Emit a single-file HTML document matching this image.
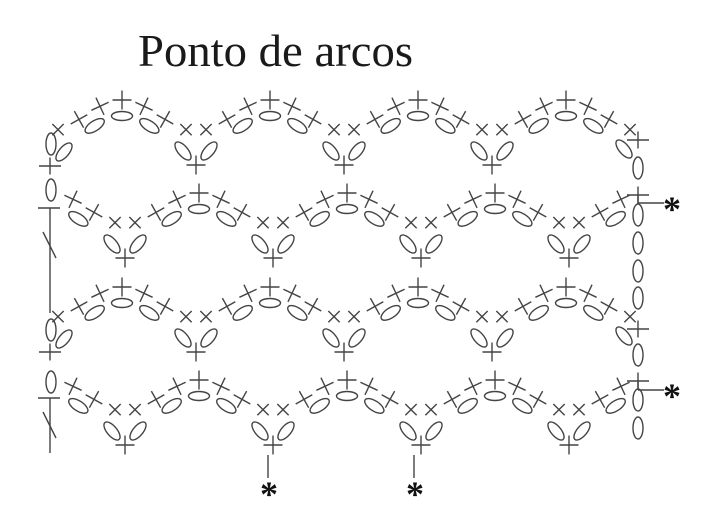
<!DOCTYPE html>
<html><head><meta charset="utf-8"><style>
html,body{margin:0;padding:0;background:#fff;width:720px;height:524px;overflow:hidden}
svg{display:block}
</style></head><body>
<svg id="s" width="720" height="524" viewBox="0 0 720 524" xmlns="http://www.w3.org/2000/svg">
<text x="138" y="66" font-family="Liberation Serif, serif" font-size="46" fill="#1a1a1a" textLength="275" lengthAdjust="spacingAndGlyphs">Ponto de arcos</text>
<g id="g" stroke="#444" stroke-width="1.4" fill="none"></g>
<g font-family="Liberation Serif, serif" font-weight="bold" font-size="36" fill="#111">
<text x="663" y="221">*</text>
<text x="663" y="408">*</text>
<text x="260" y="506">*</text>
<text x="406" y="506">*</text>
</g>
</svg>
<script>
var G=document.getElementById('g');var NS='http://www.w3.org/2000/svg';
function add(t,a){var e=document.createElementNS(NS,t);for(var k in a)e.setAttribute(k,a[k]);G.appendChild(e);return e;}
function line(x1,y1,x2,y2){add('line',{x1:x1,y1:y1,x2:x2,y2:y2});}
function plus(x,y,ang,w,h){w=w||19;h=h||19;var g=add('g',{transform:'translate('+x+','+y+') rotate('+ang+')'});
 var l1=document.createElementNS(NS,'line');l1.setAttribute('x1',-w/2);l1.setAttribute('x2',w/2);l1.setAttribute('y1',0);l1.setAttribute('y2',0);g.appendChild(l1);
 var l2=document.createElementNS(NS,'line');l2.setAttribute('x1',0);l2.setAttribute('x2',0);l2.setAttribute('y1',-h/2);l2.setAttribute('y2',h/2);g.appendChild(l2);}
function xx(x,y){plus(x,y,45,16,16);}
function oval(x,y,ang,rx,ry){add('ellipse',{cx:x,cy:y,rx:rx||11,ry:ry||5,transform:'rotate('+ang+' '+x+' '+y+')'});}
var A=31,H=74;
function rowY(top,p0,x){var d=((x-p0)%148+148)%148;if(d>74)d=148-d;return top+A*(1-Math.cos(Math.PI*d/H))/2;}
function row(top,p0){
 var peaks=[],valleys=[];
 for(var p=p0-148;p<720;p+=148){peaks.push(p);valleys.push(p+74);}
 peaks.forEach(function(p){
  [0,22,43,64].forEach(function(d){[-1,1].forEach(function(s){
   if(d==0&&s==1)return;var x=p+s*d;if(x<54||x>633)return;
   var y=rowY(top,p0,x);var sl=(rowY(top,p0,x+1)-rowY(top,p0,x-1))/2;var ang=Math.atan(sl)*180/Math.PI;
   if(d==64)xx(x,y);else plus(x,y,d==0?0:ang*0.9);
  });});
  if(p>54&&p<633)oval(p,top+16,0,10.5,4.5);
  [-1,1].forEach(function(s){var x=p+s*35;if(x<58||x>630)return;var y=rowY(top,p0,x);
   var sl=(rowY(top,p0,x+1)-rowY(top,p0,x-1))/2;var a=Math.atan(sl);
   var nx=-Math.sin(a),ny=Math.cos(a);oval(x+nx*14,y+ny*14,a*180/Math.PI,11,5);});
 });
 valleys.forEach(function(v){
  var yv=top+A;
  if(v<40||v>650)return;
  if(v>60&&v<630){oval(v-13,yv+20,50,11,5);oval(v+13,yv+20,-50,11,5);plus(v,yv+34,0);}
  else if(v<=60){oval(v+16,yv+21,-50,11,5);}
  else{oval(v-16,yv+18,50,11,5);}
 });
}
row(100,122);row(193,51);row(287,122);row(380,51);
// left column
oval(51,144,0,5,11);plus(50,166,0,22,17);oval(51,190,0,5,11);
line(38,208,60,208);line(50,208,50,313);line(43,232,56,258);
oval(51,330,0,5,11);plus(50,352,0,22,17);oval(51,382,0,5,11);
line(38,398,60,398);line(50,398,50,453);line(43,412,56,438);
// right column
plus(638,140,0,22,17);oval(638,168,0,5,11);plus(638,195,0,22,17);line(638,195,638,203);line(638,203,664,203);
oval(638,215,0,5,11);oval(638,243,0,5,11);oval(638,271,0,5,11);oval(638,298,0,5,11);
plus(638,329,0,22,17);oval(638,355,0,5,11);plus(638,381,0,22,17);line(638,381,638,390);line(638,390,664,390);
oval(638,400,0,5,11);oval(638,428,0,5,11);
// bottom connectors
line(268,455,268,478);line(414,455,414,478);
</script>
</body></html>
